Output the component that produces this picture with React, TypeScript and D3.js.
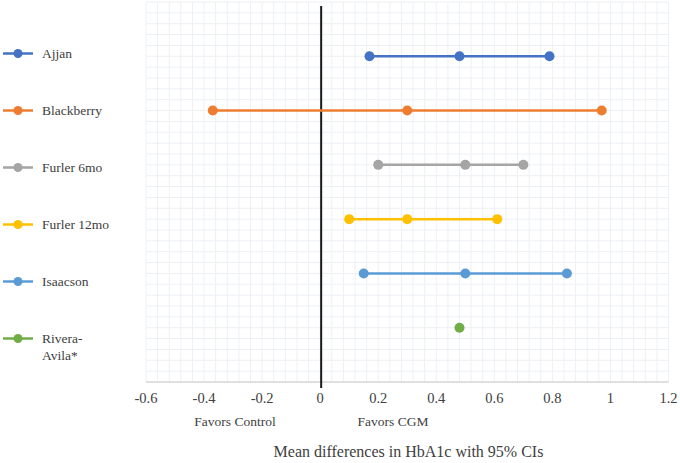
import * as d3 from 'd3';

const studies = ['Ajjan', 'Blackberry', 'Furler 6mo', 'Furler 12mo', 'Isaacson', 'Rivera-Avila*'];
const lower = [0.17, -0.37, 0.2, 0.1, 0.15, null];
const mean = [0.48, 0.3, 0.5, 0.3, 0.5, 0.48];
const upper = [0.79, 0.97, 0.7, 0.61, 0.85, null];
const colors = ['#4472C4', '#ED7D31', '#A5A5A5', '#FFC000', '#5B9BD5', '#70AD47'];
const xTicks = [-0.6, -0.4, -0.2, 0, 0.2, 0.4, 0.6, 0.8, 1, 1.2];
const legendLines = [['Ajjan'], ['Blackberry'], ['Furler 6mo'], ['Furler 12mo'], ['Isaacson'], ['Rivera-', 'Avila*']];

const W = 680;
const H = 463;
const font = '"Liberation Serif", serif';

export default function App() {
  const x = d3.scaleLinear().domain([-0.6, 1.2]).range([146, 668.5]);
  const y = d3.scaleLinear().domain([0, 7]).range([382, 2]);

  // light minor grid
  const vGrid = d3.range(-0.6, 1.2001, 0.04);
  const hGrid = d3.range(0, 7.001, 0.2);

  return (
    <svg width={W} height={H} style={{ position: 'absolute', left: 0, top: 0, background: '#fff' }}>
      <g>
        {vGrid.map((v, i) => (
          <line key={'v' + i} x1={x(v)} x2={x(v)} y1={y(7)} y2={y(0)} stroke="#edf0f4" strokeWidth={1} />
        ))}
        {hGrid.map((v, i) => (
          <line key={'h' + i} x1={x(-0.6)} x2={x(1.2)} y1={y(v)} y2={y(v)} stroke="#edf0f4" strokeWidth={1} />
        ))}
      </g>
      {/* x axis */}
      <line x1={x(-0.6)} x2={x(1.2)} y1={y(0)} y2={y(0)} stroke="#c8c8c8" strokeWidth={1.2} />
      {xTicks.map((t) => (
        <text key={t} x={x(t)} y={402.5} textAnchor="middle" fontFamily={font} fontSize={14.5} fill="#404040">
          {String(t)}
        </text>
      ))}
      {/* zero line */}
      <line x1={x(0) + 1} x2={x(0) + 1} y1={6} y2={388} stroke="#1a1a1a" strokeWidth={2} />

      {studies.map((s, i) => {
        const row = studies.length - i;
        const pts = [lower[i], mean[i], upper[i]].filter((v) => v !== null) as number[];
        return (
          <g key={s}>
            {pts.length > 1 && (
              <line
                x1={x(pts[0])}
                x2={x(pts[pts.length - 1])}
                y1={y(row)}
                y2={y(row)}
                stroke={colors[i]}
                strokeWidth={2.5}
              />
            )}
            {pts.map((v, j) => (
              <circle key={j} cx={x(v)} cy={y(row)} r={5} fill={colors[i]} />
            ))}
          </g>
        );
      })}

      {/* legend */}
      {legendLines.map((lines, i) => {
        const ly = 53.5 + i * 57;
        return (
          <g key={i}>
            <line x1={3} x2={33} y1={ly} y2={ly} stroke={colors[i]} strokeWidth={2.5} />
            <circle cx={18} cy={ly} r={4.5} fill={colors[i]} />
            {lines.map((t, k) => (
              <text key={k} x={42} y={ly + 4.5 + k * 17} fontFamily={font} fontSize={13.5} fill="#404040">
                {t}
              </text>
            ))}
          </g>
        );
      })}

      <text x={235} y={425.5} textAnchor="middle" fontFamily={font} fontSize={13.5} fill="#404040">
        Favors Control
      </text>
      <text x={393} y={425.5} textAnchor="middle" fontFamily={font} fontSize={13.5} fill="#404040">
        Favors CGM
      </text>
      <text x={408.5} y={456.5} textAnchor="middle" fontFamily={font} fontSize={16} fill="#404040">
        Mean differences in HbA1c with 95% CIs
      </text>
    </svg>
  );
}
